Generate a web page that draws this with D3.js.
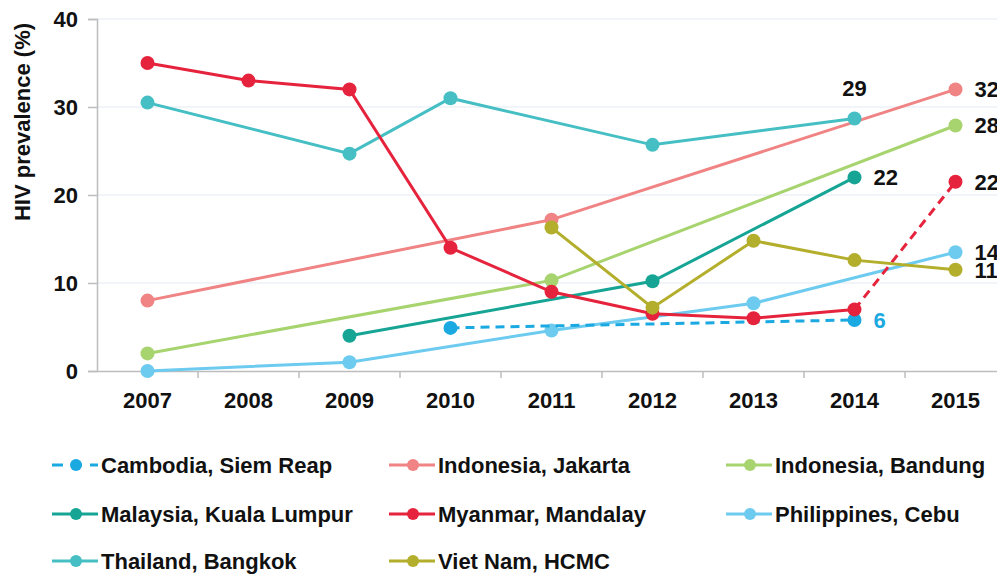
<!DOCTYPE html>
<html>
<head>
<meta charset="utf-8">
<script src="https://cdn.jsdelivr.net/npm/d3@7"></script>
<style>
body { margin: 0; background: #fff; }
svg { display: block; font-family: "Liberation Sans", Arial, sans-serif; font-weight: bold; }
</style>
</head>
<body>
<svg id="chart" width="997" height="574"></svg>
<script>
var years = [2007, 2008, 2009, 2010, 2011, 2012, 2013, 2014, 2015];
var yTicks = [0, 10, 20, 30, 40];

// values per year, null = no survey
var cambodia  = [null, null, null, 4.9, null, null, null, 5.8, null];
var jakarta   = [8, null, null, null, 17.2, null, null, null, 32];
var bandung   = [2, null, null, null, 10.3, null, null, null, 27.9];
var malaysia  = [null, null, 4.0, null, null, 10.2, null, 22, null];
var myanmar   = [35, 33, 32, 14, 9, 6.5, 6, 7, 21.5];
var cebu      = [0, null, 1.0, null, 4.6, null, 7.7, null, 13.5];
var thailand  = [30.5, null, 24.7, 31, null, 25.7, null, 28.7, null];
var vietnam   = [null, null, null, null, 16.3, 7.2, 14.8, 12.6, 11.5];

var names = ["Cambodia, Siem Reap", "Indonesia, Jakarta", "Indonesia, Bandung",
             "Malaysia, Kuala Lumpur", "Myanmar, Mandalay", "Philippines, Cebu",
             "Thailand, Bangkok", "Viet Nam, HCMC"];

// value labels: [series index, year index, text]
var endLabels = [[6, 7, "29"], [1, 8, "32"], [2, 8, "28"], [3, 7, "22"],
                 [4, 8, "22"], [5, 8, "14"], [7, 8, "11"], [0, 7, "6"]];

var allValues = [cambodia, jakarta, bandung, malaysia, myanmar, cebu, thailand, vietnam];
var colors = ["#1ba9e1", "#f08383", "#a7d46f", "#16a595", "#e6233c", "#6dcbf0", "#45bfc4", "#b3ae2b"];

var FS = 22;
var svg = d3.select('#chart');

var x = d3.scaleBand().domain(years).range([97, 1006]).padding(0);
var y = d3.scaleLinear().domain([0, 40]).range([371, 19]);
function cx(yr) { return x(yr) + x.bandwidth() / 2; }

// grid
svg.append('g').selectAll('line').data(yTicks.slice(1)).enter().append('line')
    .attr('x1', 97).attr('x2', 997)
    .attr('y1', function(d) { return y(d); })
    .attr('y2', function(d) { return y(d); })
    .attr('stroke', '#e3ecf6').attr('stroke-width', 1.2);

// y axis
var yAxis = svg.append('g').attr('transform', 'translate(97,0)')
    .call(d3.axisLeft(y).tickValues(yTicks).tickSize(9).tickPadding(10));
yAxis.select('.domain').attr('stroke', '#bdbdbd').attr('stroke-width', 1.5);
yAxis.selectAll('.tick line').attr('stroke', '#bdbdbd').attr('stroke-width', 1.5);
yAxis.selectAll('text').attr('font-size', FS).attr('font-weight', 'bold')
    .attr('fill', '#111').attr('font-family', '"Liberation Sans", Arial, sans-serif');

// x axis
var xAxis = svg.append('g').attr('transform', 'translate(0,371)')
    .call(d3.axisBottom(x).tickSize(0).tickPadding(21));
xAxis.select('.domain').attr('stroke', '#bdbdbd').attr('stroke-width', 1.5);
xAxis.selectAll('text').attr('font-size', FS).attr('font-weight', 'bold')
    .attr('fill', '#111').attr('font-family', '"Liberation Sans", Arial, sans-serif');
xAxis.selectAll('.bound').data(years.slice(1)).enter().append('line')
    .attr('class', 'bound')
    .attr('x1', function(d) { return x(d); })
    .attr('x2', function(d) { return x(d); })
    .attr('y1', 0).attr('y2', 7)
    .attr('stroke', '#bdbdbd').attr('stroke-width', 1.5);

// y label
svg.append('text')
    .attr('transform', 'translate(30,122) rotate(-90)')
    .attr('text-anchor', 'middle')
    .attr('font-size', FS).attr('fill', '#111')
    .text('HIV prevalence (%)');

function points(vals) {
    var out = [];
    vals.forEach(function(v, i) {
        if (v !== null) out.push({ yr: years[i], v: v, i: i });
    });
    return out;
}

var line = d3.line()
    .x(function(d) { return cx(d.yr); })
    .y(function(d) { return y(d.v); });

var drawOrder = [1, 2, 6, 3, 5, 0, 4, 7];
drawOrder.forEach(function(s) {
    var pts = points(allValues[s]);
    var g = svg.append('g');
    if (s === 4) {
        // Myanmar: last segment dashed
        g.append('path').attr('d', line(pts.slice(0, pts.length - 1)))
            .attr('fill', 'none').attr('stroke', colors[s]).attr('stroke-width', 3);
        g.append('path').attr('d', line(pts.slice(pts.length - 2)))
            .attr('fill', 'none').attr('stroke', colors[s]).attr('stroke-width', 3)
            .attr('stroke-dasharray', '9,6');
    } else {
        g.append('path').attr('d', line(pts))
            .attr('fill', 'none').attr('stroke', colors[s]).attr('stroke-width', 3)
            .attr('stroke-dasharray', s === 0 ? '9,6' : null);
    }
    g.selectAll('circle').data(pts).enter().append('circle')
        .attr('cx', function(d) { return cx(d.yr); })
        .attr('cy', function(d) { return y(d.v); })
        .attr('r', 7)
        .attr('fill', colors[s]);
});

// value labels
endLabels.forEach(function(l) {
    var s = l[0], i = l[1];
    var v = allValues[s][i];
    var t = svg.append('text').attr('font-size', FS).text(l[2]);
    if (s === 6) {
        t.attr('x', cx(years[i])).attr('y', y(v) - 22).attr('text-anchor', 'middle')
            .attr('fill', '#111');
    } else {
        t.attr('x', cx(years[i]) + 19).attr('y', y(v) + 8)
            .attr('fill', s === 0 ? colors[0] : '#111');
    }
});

// legend
var legX = [52, 389, 726], legY = [465, 514, 561];
names.forEach(function(n, k) {
    var lx = legX[k % 3], ly = legY[Math.floor(k / 3)];
    var g = svg.append('g');
    g.append('line').attr('x1', lx).attr('x2', lx + 46).attr('y1', ly).attr('y2', ly)
        .attr('stroke', colors[k]).attr('stroke-width', 3)
        .attr('stroke-dasharray', k === 0 ? '11,8' : null);
    g.append('circle').attr('cx', lx + 24).attr('cy', ly).attr('r', 6).attr('fill', colors[k]);
    g.append('text').attr('x', lx + 49).attr('y', ly + 8)
        .attr('font-size', FS).attr('fill', '#111').text(n);
});
</script>
</body>
</html>
